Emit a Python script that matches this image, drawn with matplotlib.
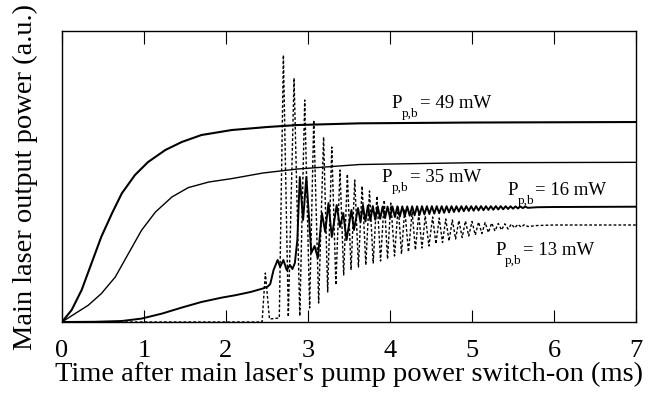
import matplotlib
matplotlib.use('Agg')
import matplotlib.pyplot as plt

plt.rcParams['font.family'] = ['Liberation Serif', 'DejaVu Serif']

# time axis (ms) and output power (a.u.)
t49 = [0, 0.118, 0.24, 0.36, 0.48, 0.61, 0.73, 0.89, 1.05, 1.26, 1.46, 1.70,
       2.07, 2.5, 2.87, 3.63, 5.0, 7.0]
p49 = [0, 12, 32, 58.7, 85.3, 108.7, 128.7, 147, 160, 172, 180, 187,
       192, 195, 197, 198.7, 199.5, 200]

t35 = [0, 0.16, 0.32, 0.48, 0.65, 0.81, 0.97, 1.14, 1.34, 1.54, 1.79, 2.07,
       2.45, 2.87, 3.63, 5.0, 7.0]
p35 = [0, 8.4, 16.7, 28.4, 45, 68.4, 91.7, 110, 125, 134.4, 140, 143.4,
       149, 153, 157.5, 159.3, 159.7]

t16 = [0, 0.4, 0.73, 0.97, 1.22, 1.46, 1.70, 1.95, 2.11, 2.30, 2.45, 2.51, 2.54,
       2.58, 2.63, 2.66, 2.70,
       2.74, 2.78, 2.81, 2.84, 2.87, 2.90, 2.94, 2.98, 3.04, 3.08, 3.12, 3.17,
       3.21, 3.25, 3.29, 3.35, 3.39, 3.43, 3.47, 3.53, 3.56, 3.61,
       3.64, 3.67, 3.70, 3.73, 3.76, 3.79, 3.82, 3.85, 3.88, 3.91, 3.94, 3.97,
       4.00, 4.03, 4.06, 4.09, 4.12, 4.15, 4.18, 4.21, 4.24, 4.27, 4.30, 4.33,
       4.36, 4.39, 4.42, 4.45, 4.48, 4.51, 4.54, 4.57, 4.60, 4.63, 4.66, 4.69,
       4.72, 4.75, 4.78, 4.81, 4.84, 4.87, 4.90, 4.93, 4.96, 4.99, 5.02, 5.05,
       5.08, 5.11, 5.14, 5.17, 5.20, 5.23, 5.26, 5.29, 5.32, 5.35, 5.38, 5.41,
       5.44, 5.47, 5.50, 5.53, 5.56, 5.59, 5.62, 5.65, 5.68, 5.8, 6.0, 7.0]
p16 = [0, 0.2, 1, 3.4, 8.4, 14.4, 20, 24.4, 26.7, 30, 33.5, 35.5, 38,
       52, 62, 55, 62,
       52, 57, 53, 59, 82, 145, 102, 145, 69, 76, 64, 109,
       90, 119, 85, 117, 95, 109, 82, 112, 92, 114,
       100, 116.7, 100.5, 116.4, 101.4, 116, 102.3, 115.8, 103.2, 115.5, 104, 115.4,
       104.5, 115.5, 105, 115.6, 105.4, 115.6, 105.8, 115.6, 106.3, 115.7, 106.7, 115.7,
       107.1, 115.8, 107.6, 115.8, 108, 115.8, 108.4, 115.8, 108.8, 115.8, 109.2, 115.8,
       109.6, 115.8, 110, 115.8, 110.4, 115.8, 110.8, 115.9, 111.1, 115.8, 111.3, 115.9,
       111.6, 115.9, 111.8, 115.8, 112.1, 115.8, 112.3, 115.9, 112.5, 115.9, 112.7, 115.8,
       113, 115.7, 113.3, 115.6, 113.6, 115.5, 113.9, 115.4, 114.2, 114.8, 115, 115.3]

t13 = [0, 2.44, 2.48, 2.53, 2.65, 2.70, 2.76, 2.83, 2.90, 2.96, 3.02, 3.07, 3.13,
       3.19, 3.24, 3.29, 3.34, 3.39, 3.435, 3.48, 3.525, 3.57, 3.615, 3.66, 3.705,
       3.75, 3.795, 3.84, 3.885, 3.93, 3.97, 4.01, 4.055, 4.10, 4.14, 4.18, 4.225,
       4.27, 4.31, 4.35, 4.39, 4.43, 4.475, 4.52, 4.56, 4.60, 4.64, 4.68, 4.72,
       4.76, 4.80, 4.84, 4.88, 4.92, 4.96, 5.00, 5.04, 5.08, 5.12, 5.16, 5.20,
       5.24, 5.28, 5.32, 5.36, 5.40, 5.44, 5.48, 5.52, 5.56, 5.60, 5.64, 5.68,
       5.8, 6.0, 7.0]
p13 = [0, 0, 49, 3, 4, 267, 5, 244, 6, 222, 14, 202, 19,
       185, 30, 175, 37, 152, 47, 148, 52, 142, 55, 136, 57,
       131, 59, 126, 61, 122, 63, 119, 66, 116, 68, 113, 70,
       110, 72, 108, 74, 106, 76, 105, 78, 104, 79.5, 103, 81,
       102, 83, 101.5, 84.5, 101, 86, 100.5, 87, 100, 88.5, 99.5, 89.5,
       99, 91, 98.5, 92, 98.2, 93, 98, 94, 97.7, 94.8, 97.5, 95.5,
       96.5, 97, 97]

powers = ['49', '35', '16', '13']
label_x = [4.02, 3.90, 5.43, 5.28]
label_y = [214, 140, 127, 67]

fig = plt.figure(figsize=(6.51, 3.93), dpi=100)
ax = fig.add_axes([0.0952, 0.1807, 0.8818, 0.7403])

ax.plot(t13, p13, color='black', lw=1.0, linestyle=(0, (2, 1.5)))
ax.plot(t49, p49, color='black', lw=1.5)
ax.plot(t35, p35, color='black', lw=1.0)
ax.plot(t16, p16, color='black', lw=1.4)

for pw, x, y in zip(powers, label_x, label_y):
    ax.annotate('P', xy=(x, y), fontsize=13.5, va='baseline', ha='left')
    ax.annotate('p,b', xy=(x, y), xytext=(10, -9), textcoords='offset pixels',
                fontsize=9.5, va='baseline', ha='left')
    ax.annotate('= ' + pw + ' mW', xy=(x, y), xytext=(28, 0), textcoords='offset pixels',
                fontsize=13.5, va='baseline', ha='left')

ax.set_xlim(0, 7)
ax.set_ylim(0, 291)
ax.set_xticks(range(0, 8))
ax.set_yticks([])
ax.tick_params(axis='x', direction='in', length=9, top=True, labelsize=19, pad=13)
for sp in ax.spines.values():
    sp.set_linewidth(1.0)

ax.set_xlabel("Time after main laser's pump power switch-on (ms)", fontsize=20.5, labelpad=0)
ax.set_ylabel('Main laser output power (a.u.)', fontsize=20.5, labelpad=17)

fig.savefig('out.png', dpi=100)
